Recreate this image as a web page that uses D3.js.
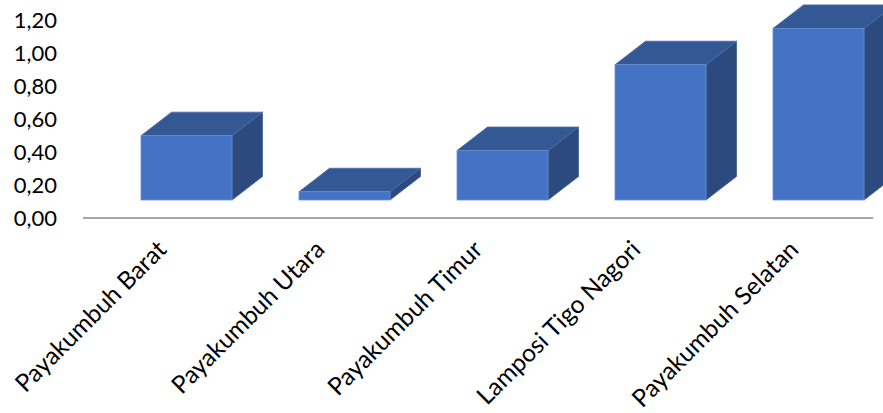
<!DOCTYPE html>
<html>
<head>
<meta charset="utf-8">
<script src="https://cdn.jsdelivr.net/npm/d3@7"></script>
<style>
  html, body { margin: 0; padding: 0; background: #fff; overflow: hidden; }
  svg { display: block; }
</style>
</head>
<body>
<svg id="chart" width="883" height="413"></svg>
<script>
const categories = ["Payakumbuh Barat", "Payakumbuh Utara", "Payakumbuh Timur", "Lamposi Tigo Nagori", "Payakumbuh Selatan"];
const values = [0.39, 0.05, 0.30, 0.82, 1.04];
const tickValues = [0, 0.2, 0.4, 0.6, 0.8, 1.0, 1.2];

const W = 883, H = 413;
const svg = d3.select("#chart");
const font = "Lato, 'Open Sans', sans-serif";

const locale = d3.formatLocale({ decimal: ",", thousands: ".", grouping: [3], currency: ["", ""] });
const fmt = locale.format(".2f");

const x = d3.scaleBand().domain(categories).range([83, 873]).paddingInner(0).paddingOuter(0);
const y = d3.scaleLinear().domain([0, 1.2]).range([218, 20]);

// 3D geometry
const lift = 18;          // floor lift of the 3D bars
const ddx = 30.5, ddy = -23.5; // depth offset
const barOffset = 58 / 158, barWidthFrac = 91 / 158;

// axis line
svg.append("line")
  .attr("x1", x.range()[0]).attr("x2", x.range()[1])
  .attr("y1", y(0)).attr("y2", y(0))
  .attr("stroke", "#a6a6a6").attr("stroke-width", 2);

// y axis labels
const yAxis = d3.axisLeft(y).tickValues(tickValues).tickSize(0).tickPadding(0).tickFormat(fmt);
const gy = svg.append("g").attr("transform", "translate(57,0)").call(yAxis);
gy.select(".domain").remove();
gy.selectAll("text")
  .attr("font-family", font).attr("font-size", 22).attr("fill", "#000").attr("dy", "0.36em");

// bars
const bars = svg.append("g").selectAll("g").data(categories).join("g");
bars.each(function(c, i) {
  const g = d3.select(this);
  const x0 = x(c) + x.bandwidth() * barOffset;
  const x1 = x0 + x.bandwidth() * barWidthFrac;
  const yb = y(0) - lift;
  const yt = y(values[i]) - lift;
  // side
  g.append("path")
    .attr("d", `M${x1},${yt}L${x1 + ddx},${yt + ddy}L${x1 + ddx},${yb + ddy}L${x1},${yb}Z`)
    .attr("fill", "#2c4a7e").attr("stroke", "#3d5f99").attr("stroke-width", 0.8);
  // top
  g.append("path")
    .attr("d", `M${x0},${yt}L${x0 + ddx},${yt + ddy}L${x1 + ddx},${yt + ddy}L${x1},${yt}Z`)
    .attr("fill", "#335894").attr("stroke", "#4a6ca8").attr("stroke-width", 0.8);
  // front
  g.append("rect")
    .attr("x", x0).attr("y", yt).attr("width", x1 - x0).attr("height", yb - yt)
    .attr("fill", "#4472c4").attr("stroke", "#6a8fd2").attr("stroke-width", 0.8);
});

// category labels
svg.append("g").selectAll("text").data(categories).join("text")
  .attr("transform", d => `translate(${x(d) + x.bandwidth() / 2 + 6},${251}) rotate(-45)`)
  .attr("text-anchor", "end")
  .attr("font-family", font).attr("font-size", 24.5).attr("fill", "#000")
  .text(d => d);
</script>
</body>
</html>
